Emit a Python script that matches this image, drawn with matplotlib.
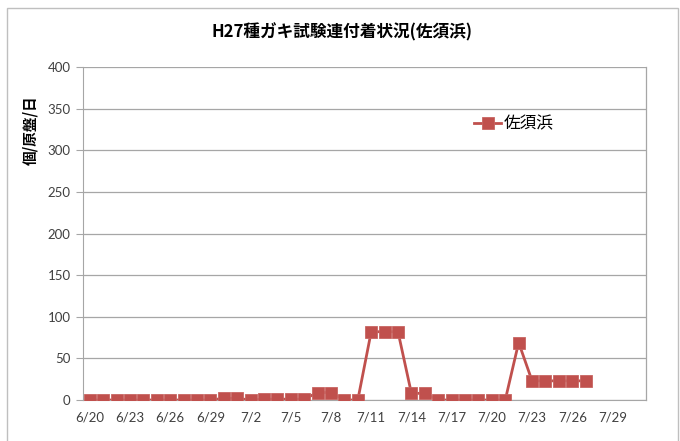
import matplotlib
matplotlib.use("Agg")
import matplotlib.pyplot as plt
from matplotlib.patches import Rectangle

plt.rcParams['font.family'] = ['Noto Sans CJK JP', 'DejaVu Sans']

dates = ["6/20","6/21","6/22","6/23","6/24","6/25","6/26","6/27","6/28","6/29",
         "6/30","7/1","7/2","7/3","7/4","7/5","7/6","7/7","7/8","7/9",
         "7/10","7/11","7/12","7/13","7/14","7/15","7/16","7/17","7/18","7/19",
         "7/20","7/21","7/22","7/23","7/24","7/25","7/26","7/27"]
values = [0,0,0,0,0,0,0,0,0,0,
          2,2,0,1,1,1,1,9,9,0,
          0,82,82,82,8,8,0,0,0,0,
          0,0,69,23,23,23,23,23]
tick_labels = ["6/20","6/23","6/26","6/29","7/2","7/5","7/8","7/11","7/14",
               "7/17","7/20","7/23","7/26","7/29"]
n_slots = 42  # 6/20 .. 7/31

fig = plt.figure(figsize=(6.8, 4.41), dpi=100)
fig.patches.append(Rectangle((7/680, -0.01), (678-7)/680, 1-8/441+0.01,
                             transform=fig.transFigure, fill=False,
                             edgecolor='#bfbfbf', linewidth=1))
ax = fig.add_axes([83/680, 41/441, (646-83)/680, (400-67)/441])

x = list(range(len(values)))
color = '#C0504D'
ax.plot(x, values, color=color, linewidth=2, marker='s', markersize=8.4,
        markeredgewidth=0.6, markeredgecolor='#c86562',
        label='佐須浜', zorder=3)

ax.set_xlim(-0.5, n_slots - 0.5)
ax.set_ylim(0, 400)
ax.set_yticks(range(0, 401, 50))
ax.grid(axis='y', color='#a6a6a6', linewidth=0.9)
ax.set_axisbelow(True)
tick_pos = [i * 3 for i in range(len(tick_labels))]
ax.set_xticks(tick_pos)
ax.set_xticklabels(tick_labels)
for s in ['top', 'right']:
    ax.spines[s].set_visible(False)
ax.spines['left'].set_color('#a6a6a6')
ax.spines['bottom'].set_color('#a6a6a6')
ax.plot([1, 1], [0, 1], transform=ax.transAxes, color='#a6a6a6', linewidth=0.9, clip_on=False)
ax.tick_params(axis='x', length=0, pad=8, labelsize=9.5, colors='#404040')
ax.tick_params(axis='y', length=5, color='#a6a6a6', labelsize=9.5, labelcolor='#404040', pad=4)
for lab in ax.get_xticklabels() + ax.get_yticklabels():
    lab.set_family(['Lato', 'DejaVu Sans'])

fig.text(342/680, 1 - 32/441, 'H27種ガキ試験連付着状況(佐須浜)', ha='center', va='center',
         fontsize=12, fontweight='bold')
fig.text(30/680, 1 - 130/441, '個/原盤/日', rotation=90, ha='center', va='center',
         fontsize=10.5, fontweight='bold')

leg = ax.legend(loc='center left', bbox_to_anchor=(466/680, 1 - 124/441),
                bbox_transform=fig.transFigure, frameon=False, fontsize=12,
                handlelength=1.6, handletextpad=0.15, borderpad=0)

fig.savefig('out.png', dpi=100)
